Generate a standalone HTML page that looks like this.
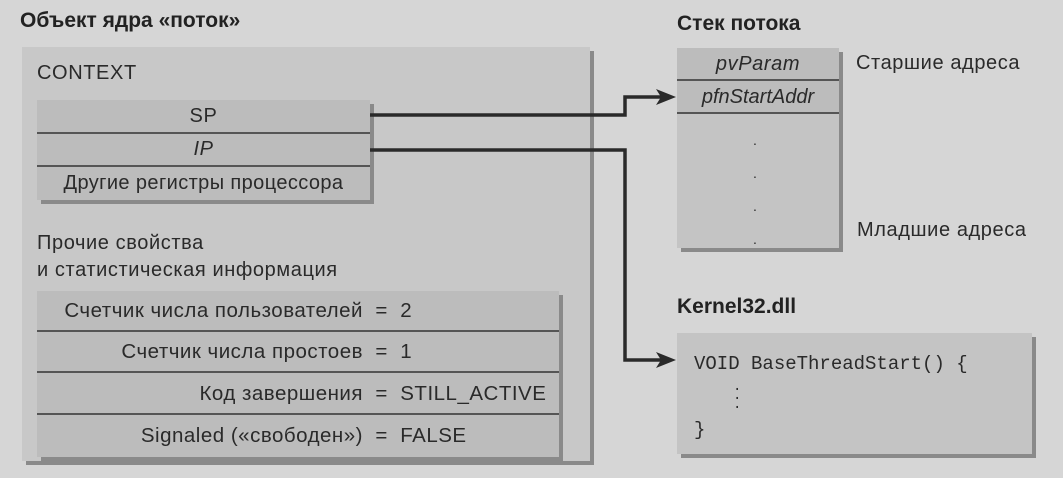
<!DOCTYPE html>
<html><head><meta charset="utf-8"><style>
body{margin:0;width:1063px;height:478px;background:#d6d6d6;position:relative;overflow:hidden;font-family:"Liberation Sans","Noto Sans CJK SC",sans-serif;color:#2a2a2a}
.a{position:absolute}
.t{font-weight:bold;font-size:21px;color:#222}
.f{font-size:20px;letter-spacing:0.6px}
.box{background:#c8c8c8;box-shadow:4px 4px 0 #8a8a8a}
.row{position:absolute;left:0;right:0;background:#bcbcbc;border-bottom:2px solid #555;font-size:20px;letter-spacing:0.6px;box-sizing:border-box;white-space:nowrap}
.s .row{font-size:20.5px;letter-spacing:0.5px}
.l{display:inline-block;width:326px;text-align:right}
</style></head><body>
<div class="a t" style="left:20px;top:9px">Объект ядра «поток»</div>
<div class="a box" style="left:22px;top:47px;width:568px;height:414px"></div>
<div class="a f" style="left:37px;top:62px">CONTEXT</div>
<div class="a box" style="left:37px;top:100px;width:333px;height:100px;background:#bcbcbc">
 <div class="row" style="top:0;height:34px;text-align:center;line-height:32px">SP</div>
 <div class="row" style="top:34px;height:33px;text-align:center;line-height:31px;font-style:italic">IP</div>
 <div class="row" style="top:67px;height:33px;line-height:33px;text-align:center;border:none;letter-spacing:0.4px">Другие регистры процессора</div>
</div>
<div class="a f" style="left:37px;top:230px;line-height:27px">Прочие свойства<br>и статистическая информация</div>
<div class="a box s" style="left:37px;top:291px;width:522px;height:166px;background:#bcbcbc">
 <div class="row" style="top:0;height:41px;line-height:40px"><span class="l">Счетчик числа пользователей</span>&nbsp; = &nbsp;2</div>
 <div class="row" style="top:41px;height:41px;line-height:40px"><span class="l">Счетчик числа простоев</span>&nbsp; = &nbsp;1</div>
 <div class="row" style="top:82px;height:42px;line-height:41px"><span class="l">Код завершения</span>&nbsp; = &nbsp;STILL_ACTIVE</div>
 <div class="row" style="top:124px;height:42px;line-height:42px;border:none"><span class="l">Signaled («свободен»)</span>&nbsp; = &nbsp;FALSE</div>
</div>
<div class="a t" style="left:677px;top:12px">Стек потока</div>
<div class="a box" style="left:677px;top:48px;width:162px;height:200px;background:#c4c4c4">
 <div class="row" style="top:0;height:33px;line-height:32px;text-align:center;font-style:italic">pvParam</div>
 <div class="row" style="top:33px;height:33px;line-height:32px;text-align:center;font-style:italic;letter-spacing:0">pfnStartAddr</div>
 <div class="a" style="left:76px;top:76px;line-height:33px;font-size:14px">.<br>.<br>.<br>.</div>
</div>
<div class="a f" style="left:856px;top:52px">Старшие адреса</div>
<div class="a f" style="left:857px;top:219px">Младшие адреса</div>
<div class="a t" style="left:677px;top:295px">Kernel32.dll</div>
<div class="a box" style="left:677px;top:333px;width:355px;height:121px;background:#c4c4c4;font-family:'Liberation Mono',monospace;font-size:19px">
 <div class="a" style="left:17px;top:20px">VOID BaseThreadStart() {</div>
 <div class="a" style="left:56px;top:50px;font-size:14px;line-height:9px">.<br>.<br>.</div>
 <div class="a" style="left:17px;top:86px">}</div>
</div>
<svg class="a" style="left:0;top:0" width="1063" height="478">
 <g fill="none" stroke="#2a2a2a" stroke-width="3.5">
  <polyline points="370,115 625,115 625,97 664,97"/>
  <polyline points="370,150 625,150 625,360 664,360"/>
 </g>
 <polygon points="676,97 656,89 661,97 656,105" fill="#2a2a2a"/>
 <polygon points="676,360 656,352 661,360 656,368" fill="#2a2a2a"/>
</svg>
</body></html>
